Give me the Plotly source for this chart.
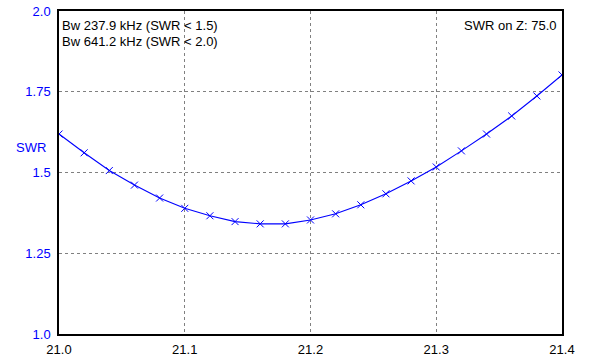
import plotly.graph_objects as go

freq = [21.00, 21.02, 21.04, 21.06, 21.08, 21.10, 21.12, 21.14, 21.16, 21.18, 21.20,
        21.22, 21.24, 21.26, 21.28, 21.30, 21.32, 21.34, 21.36, 21.38, 21.40]
swr = [1.619, 1.561, 1.506, 1.461, 1.421, 1.389, 1.366, 1.348, 1.341, 1.341, 1.353,
       1.372, 1.400, 1.434, 1.474, 1.517, 1.567, 1.619, 1.675, 1.737, 1.802]
x_ticks = [21.0, 21.1, 21.2, 21.3, 21.4]
x_tick_labels = ["21.0", "21.1", "21.2", "21.3", "21.4"]
y_ticks = [1.0, 1.25, 1.5, 1.75, 2.0]
y_tick_labels = ["1.0", "1.25", "1.5", "1.75", "2.0"]
bw_lines = ["Bw 237.9 kHz (SWR < 1.5)", "Bw 641.2 kHz (SWR < 2.0)"]
z_label = "SWR on Z: 75.0"

FONT = "Liberation Sans, Arial, sans-serif"
FS = 13

fig = go.Figure()
fig.add_trace(go.Scatter(
    x=freq, y=swr, mode="lines+markers",
    line=dict(color="#0000FF", width=1.1),
    marker=dict(symbol="x-thin", size=7, color="#0000FF",
                line=dict(color="#0000FF", width=1)),
    hoverinfo="skip", showlegend=False,
))

annotations = [
    dict(text="SWR", xref="paper", yref="y", x=-0.056, y=1.576,
         xanchor="center", yanchor="middle", showarrow=False,
         font=dict(family=FONT, size=FS, color="#0000FF")),
    dict(text=z_label, xref="paper", yref="paper", x=0.993, y=0.9536,
         xanchor="right", yanchor="middle", align="right", showarrow=False,
         font=dict(family=FONT, size=FS, color="black")),
]
for i, line in enumerate(bw_lines):
    annotations.append(dict(text=line, xref="paper", yref="paper", x=0.002,
                            y=0.9536 - i * 0.0495, xanchor="left", yanchor="middle",
                            align="left", showarrow=False,
                            font=dict(family=FONT, size=FS, color="black")))

fig.update_layout(
    width=598, height=361,
    margin=dict(l=59, r=36, t=11, b=27, pad=0, autoexpand=False),
    paper_bgcolor="white", plot_bgcolor="white",
    font=dict(family=FONT, size=FS, color="black"),
    xaxis=dict(range=[21.0, 21.4], tickvals=x_ticks, ticktext=x_tick_labels,
               showgrid=True, gridcolor="#808080", griddash="3px,3px", gridwidth=1,
               showline=True, linecolor="black", linewidth=1.5, mirror=True,
               zeroline=False, ticks="", ticklabelstandoff=3, automargin=False,
               tickfont=dict(family=FONT, size=FS, color="black")),
    yaxis=dict(range=[1.0, 2.0], tickvals=y_ticks, ticktext=y_tick_labels,
               showgrid=True, gridcolor="#808080", griddash="3px,3px", gridwidth=1,
               showline=True, linecolor="black", linewidth=1.5, mirror=True,
               zeroline=False, ticks="", ticklabelstandoff=4, automargin=False,
               tickfont=dict(family=FONT, size=FS, color="#0000FF")),
    annotations=annotations,
)

fig.write_html("out.html", config={"displayModeBar": False},
               post_script="document.body.style.margin='0';document.body.style.padding='0';")
